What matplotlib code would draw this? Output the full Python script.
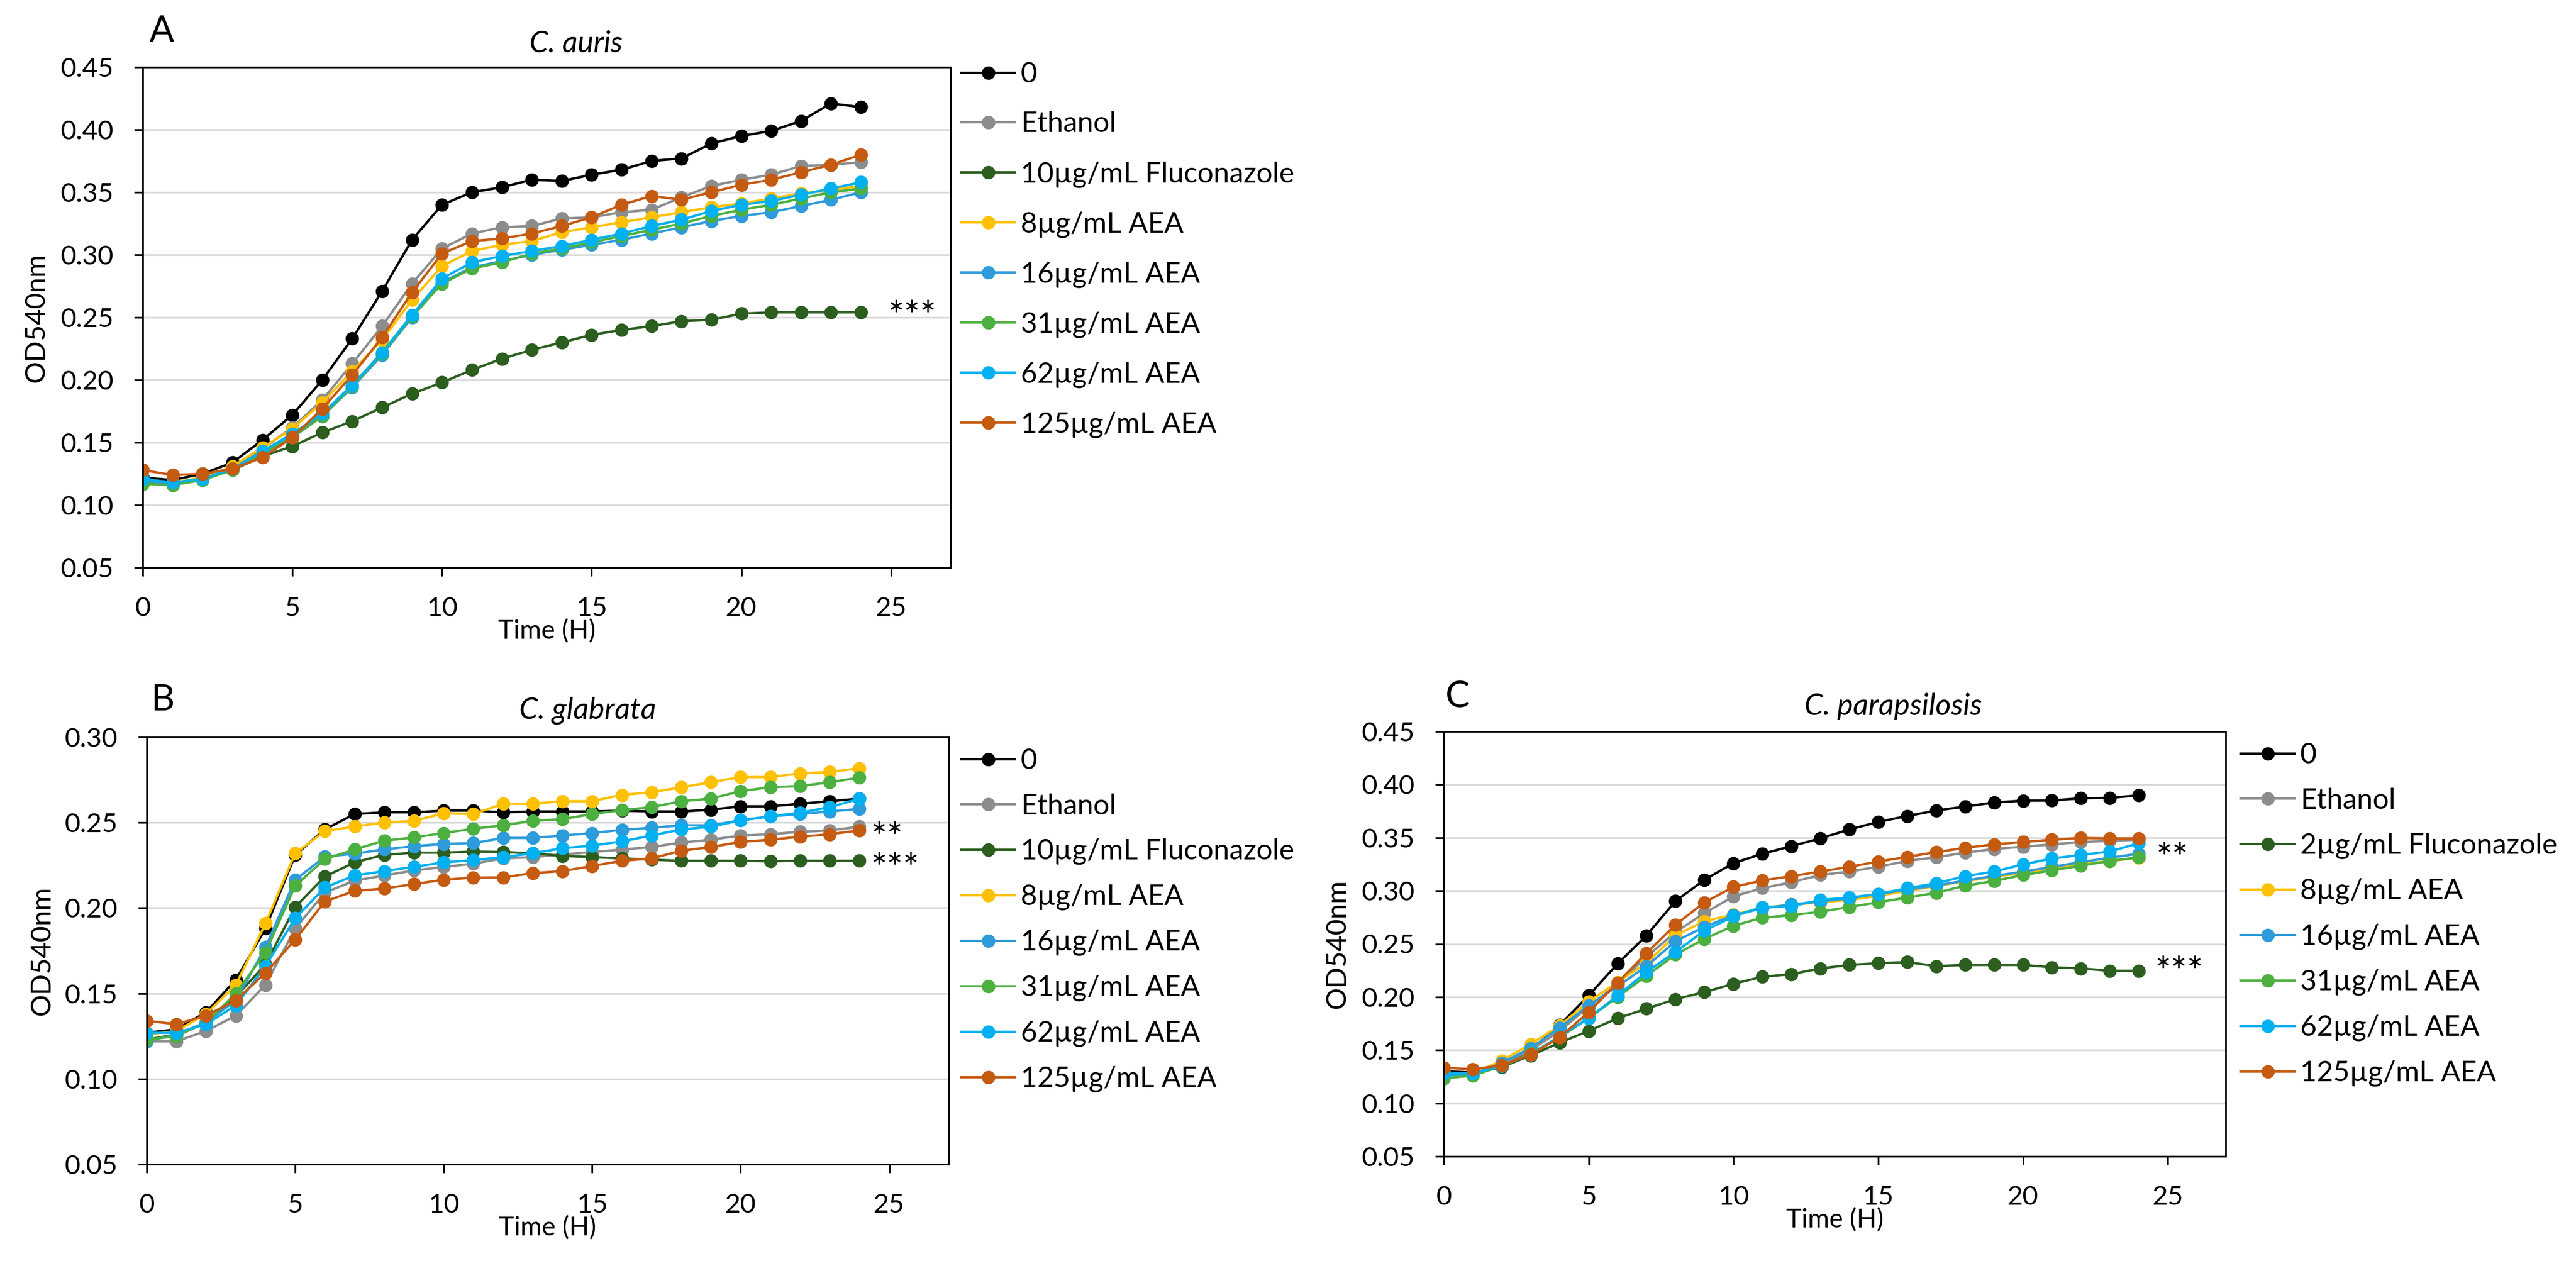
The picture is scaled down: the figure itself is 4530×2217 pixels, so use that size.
import matplotlib
matplotlib.use("Agg")
import matplotlib.pyplot as plt
from matplotlib.ticker import FormatStrFormatter, MultipleLocator

plt.rcParams['font.family'] = ['Lato', 'DejaVu Sans']

# time points (hours)
time_h = list(range(25))

labels_a = ['0', 'Ethanol', '10µg/mL Fluconazole', '8µg/mL AEA', '16µg/mL AEA',
            '31µg/mL AEA', '62µg/mL AEA', '125µg/mL AEA']
labels_c = ['0', 'Ethanol', '2µg/mL Fluconazole', '8µg/mL AEA', '16µg/mL AEA',
            '31µg/mL AEA', '62µg/mL AEA', '125µg/mL AEA']
colors = ['#000000', '#8c8c8c', '#2b5e1f', '#ffc000', '#2e9bdb', '#4cb040', '#00b0f0', '#c55a11']

# A - C. auris
auris_0 = [0.122, 0.120, 0.125, 0.134, 0.152, 0.172, 0.200, 0.233, 0.271, 0.312, 0.340, 0.350, 0.354,
           0.360, 0.359, 0.364, 0.368, 0.375, 0.377, 0.389, 0.395, 0.399, 0.407, 0.421, 0.418]
auris_eth = [0.120, 0.118, 0.121, 0.130, 0.145, 0.162, 0.184, 0.213, 0.243, 0.277, 0.305, 0.317, 0.322,
             0.323, 0.329, 0.330, 0.334, 0.336, 0.346, 0.355, 0.360, 0.364, 0.371, 0.372, 0.374]
auris_flu = [0.118, 0.117, 0.121, 0.128, 0.139, 0.147, 0.158, 0.167, 0.178, 0.189, 0.198, 0.208, 0.217,
             0.224, 0.230, 0.236, 0.240, 0.243, 0.247, 0.248, 0.253, 0.254, 0.254, 0.254, 0.254]
auris_8 = [0.120, 0.118, 0.122, 0.131, 0.146, 0.161, 0.182, 0.207, 0.232, 0.264, 0.291, 0.303, 0.308,
           0.311, 0.318, 0.322, 0.326, 0.330, 0.334, 0.338, 0.341, 0.345, 0.349, 0.352, 0.355]
auris_16 = [0.119, 0.117, 0.121, 0.129, 0.142, 0.155, 0.171, 0.194, 0.220, 0.250, 0.278, 0.290, 0.295,
            0.300, 0.304, 0.308, 0.312, 0.317, 0.322, 0.327, 0.331, 0.334, 0.339, 0.344, 0.350]
auris_31 = [0.117, 0.116, 0.120, 0.128, 0.141, 0.154, 0.171, 0.195, 0.221, 0.251, 0.277, 0.289, 0.294,
            0.301, 0.305, 0.310, 0.315, 0.320, 0.325, 0.331, 0.336, 0.340, 0.345, 0.350, 0.353]
auris_62 = [0.121, 0.118, 0.121, 0.129, 0.143, 0.157, 0.173, 0.196, 0.222, 0.252, 0.281, 0.294, 0.299,
            0.303, 0.307, 0.312, 0.317, 0.323, 0.328, 0.335, 0.340, 0.343, 0.348, 0.353, 0.358]
auris_125 = [0.128, 0.124, 0.125, 0.129, 0.138, 0.154, 0.177, 0.204, 0.234, 0.270, 0.301, 0.311, 0.313,
             0.317, 0.323, 0.330, 0.340, 0.347, 0.344, 0.350, 0.356, 0.360, 0.366, 0.372, 0.380]

# B - C. glabrata
glab_0 = [0.127, 0.129, 0.139, 0.158, 0.188, 0.231, 0.246, 0.255, 0.256, 0.256, 0.257, 0.257, 0.256,
          0.2565, 0.2565, 0.2565, 0.257, 0.2565, 0.2565, 0.2575, 0.2595, 0.2595, 0.261, 0.2625, 0.264]
glab_eth = [0.122, 0.122, 0.128, 0.137, 0.155, 0.188, 0.209, 0.216, 0.219, 0.222, 0.224, 0.226, 0.229,
            0.2298, 0.2313, 0.2328, 0.2342, 0.2357, 0.2383, 0.240, 0.2424, 0.2432, 0.2446, 0.2454, 0.2476]
glab_flu = [0.123, 0.126, 0.133, 0.148, 0.167, 0.2006, 0.2184, 0.2267, 0.2311, 0.2324, 0.2324, 0.233, 0.2328,
            0.232, 0.2305, 0.2298, 0.229, 0.2283, 0.2276, 0.2276, 0.2276, 0.2273, 0.2276, 0.2276, 0.2276]
glab_8 = [0.126, 0.128, 0.138, 0.155, 0.191, 0.232, 0.245, 0.2477, 0.250, 0.251, 0.2554, 0.255, 0.261,
          0.261, 0.2625, 0.2625, 0.2662, 0.2677, 0.2707, 0.2736, 0.2766, 0.2766, 0.2788, 0.2796, 0.2818]
glab_16 = [0.122, 0.126, 0.133, 0.146, 0.177, 0.2165, 0.230, 0.2318, 0.2343, 0.2362, 0.2375, 0.238, 0.241,
           0.241, 0.2424, 0.2439, 0.2457, 0.247, 0.2484, 0.2484, 0.2513, 0.2536, 0.255, 0.2565, 0.258]
glab_31 = [0.123, 0.125, 0.133, 0.150, 0.174, 0.213, 0.2286, 0.2343, 0.2394, 0.2413, 0.2439, 0.2464, 0.2484,
           0.251, 0.252, 0.255, 0.2573, 0.259, 0.2625, 0.264, 0.2684, 0.2707, 0.2714, 0.2736, 0.2763]
glab_62 = [0.127, 0.127, 0.132, 0.143, 0.166, 0.194, 0.212, 0.219, 0.2216, 0.2241, 0.2267, 0.228, 0.2298,
           0.232, 0.235, 0.2365, 0.239, 0.2424, 0.246, 0.2476, 0.2513, 0.2536, 0.2558, 0.259, 0.264]
glab_125 = [0.134, 0.132, 0.137, 0.146, 0.162, 0.1815, 0.2038, 0.210, 0.2114, 0.214, 0.2165, 0.2178, 0.2179,
            0.2204, 0.2216, 0.2246, 0.2276, 0.229, 0.2335, 0.2357, 0.2387, 0.240, 0.2417, 0.2432, 0.2454]

# C - C. parapsilosis
para_0 = [0.130, 0.129, 0.136, 0.150, 0.1735, 0.2013, 0.2313, 0.258, 0.2903, 0.3103, 0.326, 0.3348, 0.342,
          0.3493, 0.3577, 0.3648, 0.3704, 0.3755, 0.3793, 0.3831, 0.3849, 0.385, 0.3871, 0.3875, 0.3898]
para_eth = [0.129, 0.128, 0.137, 0.150, 0.168, 0.191, 0.212, 0.238, 0.261, 0.279, 0.2947, 0.3025, 0.308,
            0.3148, 0.3181, 0.3226, 0.3281, 0.3315, 0.3359, 0.3393, 0.3415, 0.3437, 0.3459, 0.347, 0.3482]
para_flu = [0.127, 0.128, 0.134, 0.145, 0.157, 0.168, 0.180, 0.189, 0.198, 0.2046, 0.2124, 0.219, 0.2215,
            0.2269, 0.2302, 0.2318, 0.2329, 0.2291, 0.2302, 0.2302, 0.2302, 0.228, 0.2269, 0.2247, 0.2247]
para_8 = [0.127, 0.128, 0.140, 0.1557, 0.173, 0.1957, 0.214, 0.232, 0.258, 0.2714, 0.2775, 0.284, 0.287,
          0.289, 0.2915, 0.295, 0.300, 0.3045, 0.309, 0.313, 0.317, 0.321, 0.325, 0.328, 0.331]
para_16 = [0.126, 0.127, 0.138, 0.152, 0.171, 0.192, 0.210, 0.229, 0.2525, 0.266, 0.277, 0.2835, 0.287,
           0.290, 0.293, 0.297, 0.301, 0.305, 0.3095, 0.314, 0.318, 0.3225, 0.327, 0.331, 0.335]
para_31 = [0.1234, 0.126, 0.135, 0.147, 0.162, 0.180, 0.200, 0.220, 0.240, 0.2547, 0.267, 0.2747, 0.277,
           0.2803, 0.2847, 0.2892, 0.2936, 0.2981, 0.3048, 0.3092, 0.3148, 0.3192, 0.3237, 0.3281, 0.3315]
para_62 = [0.128, 0.128, 0.135, 0.146, 0.163, 0.180, 0.2013, 0.2235, 0.2425, 0.2625, 0.2758, 0.2847, 0.2855,
           0.2914, 0.2936, 0.297, 0.3025, 0.307, 0.3137, 0.3181, 0.3248, 0.3304, 0.3337, 0.337, 0.3448]
para_125 = [0.1334, 0.132, 0.1356, 0.1457, 0.162, 0.1857, 0.2135, 0.2414, 0.268, 0.289, 0.3036, 0.3097, 0.3137,
            0.3181, 0.3226, 0.3275, 0.3319, 0.3364, 0.3404, 0.3437, 0.3459, 0.3481, 0.3497, 0.3493, 0.3493]

W, H = 4530, 2217
fig = plt.figure(figsize=(W / 100, H / 100), dpi=100)


def px_box(left, top, right, bottom):
    return [left / W, (H - bottom) / H, (right - left) / W, (bottom - top) / H]


def panel(box, series, labels, ymax, title, title_xy, letter, letter_xy, leg_xy, leg_space, ylab_x, stars):
    ax = fig.add_axes(px_box(*box))
    for ys, lab, c in zip(series, labels, colors):
        ax.plot(time_h, ys, color=c, lw=3.0, marker='o', ms=17, mec=c, mew=0, label=lab)
    ax.set_xlim(0, 27)
    ax.set_ylim(0.05, ymax)
    ax.set_xticks([0, 5, 10, 15, 20, 25])
    ax.yaxis.set_major_locator(MultipleLocator(0.05))
    ax.yaxis.set_major_formatter(FormatStrFormatter('%.2f'))
    ax.grid(axis='y', color='#d9d9d9', lw=2.2)
    ax.set_axisbelow(True)
    for s in ax.spines.values():
        s.set_linewidth(2.2)
    ax.tick_params(axis='both', which='major', direction='out', length=11, width=2.2,
                   labelsize=34, pad=26, top=False, right=False)
    ax.set_xlabel('Time (H)', fontsize=33, labelpad=-2)
    ax.set_ylabel('OD540nm', fontsize=35)
    ax.yaxis.set_label_coords(ylab_x, 0.5)
    fig.text(title_xy[0] / W, 1 - title_xy[1] / H, title, fontsize=38, style='italic',
             ha='center', va='center')
    fig.text(letter_xy[0] / W, 1 - letter_xy[1] / H, letter, fontsize=46, ha='left', va='center')
    ax.legend(loc='upper left', bbox_to_anchor=(leg_xy[0] / W, 1 - leg_xy[1] / H),
              bbox_transform=fig.transFigure, frameon=False, borderaxespad=0, borderpad=0,
              fontsize=36, handlelength=1.9, handletextpad=0.2, labelspacing=leg_space,
              numpoints=1)
    for x, y, s in stars:
        ax.annotate(s, xy=(x, y), xytext=(0, -27), textcoords='offset points',
                    fontsize=48, ha='left', va='baseline', annotation_clip=False)
    return ax


panel((251, 118, 1672, 998),
      [auris_0, auris_eth, auris_flu, auris_8, auris_16, auris_31, auris_62, auris_125],
      labels_a, 0.45, 'C. auris', (1013, 77), 'A', (263, 55), (1690, 108), 0.83, -0.116,
      [(24.9, 0.258, '***')])

panel((258, 1296, 1668, 2047),
      [glab_0, glab_eth, glab_flu, glab_8, glab_16, glab_31, glab_62, glab_125],
      labels_a, 0.30, 'C. glabrata', (1033, 1250), 'B', (265, 1231), (1690, 1315), 0.67, -0.115,
      [(24.4, 0.2462, '**'), (24.4, 0.2284, '***')])

panel((2539, 1286, 3914, 2033),
      [para_0, para_eth, para_flu, para_8, para_16, para_31, para_62, para_125],
      labels_c, 0.45, 'C. parapsilosis', (3329, 1242), 'C', (2542, 1226), (3940, 1305), 0.67, -0.12,
      [(24.6, 0.339, '**'), (24.56, 0.2317, '***')])

fig.savefig('out.png', dpi=100)
